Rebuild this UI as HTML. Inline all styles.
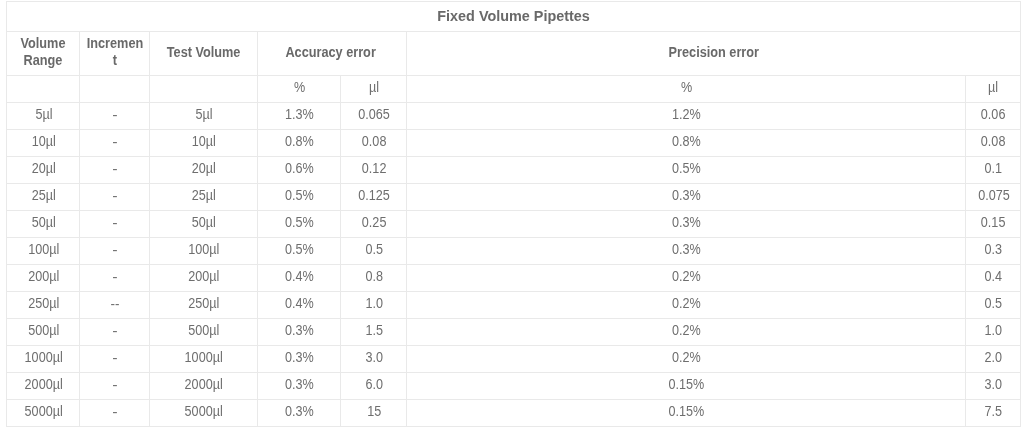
<!DOCTYPE html>
<html lang="en">
<head>
<meta charset="utf-8">
<title>Fixed Volume Pipettes</title>
<style>
html,body{margin:0;padding:0;background:#fff;}
body{width:1029px;height:433px;overflow:hidden;font-family:"Liberation Sans",Arial,sans-serif;font-size:14px;color:#666;}
table{position:absolute;left:6px;top:1px;border-collapse:collapse;table-layout:fixed;width:1014px;}
td,th{border:1px solid #e9e9e9;padding:3px 0 0 0;text-align:center;vertical-align:top;line-height:17px;font-size:14px;box-sizing:border-box;white-space:nowrap;}
th{font-weight:bold;color:#696969;}
td{color:#6e6e6e;font-weight:normal;}
td span,th span{display:inline-block;transform:translateX(0.5px) scaleX(0.9);transform-origin:50% 50%;}
td span.hy{transform:translate(0.6px,1px) scaleX(1.15);color:#747474;}
td span.hy2{transform:translate(0.4px,1px) scaleX(0.96);}
tr.t th{height:30px;padding-top:6px;}
tr.t th span{transform:translateX(0.4px) scaleX(1.028);}
tr.h th{height:44px;padding-top:12px;}
tr.h th span{transform:scaleX(0.908);}
tr.h th span.acc{transform:translateX(-1.2px) scaleX(0.908);}
tr.h th.two{padding-top:3px;white-space:normal;}
tr.h th.two span{display:block;margin:0 -4px;}
tr.h th.inc span{margin:0 2.5px;word-break:break-all;}
tr.s td{height:27px;}
tr.d td{height:27px;}
</style>
</head>
<body>
<table>
<colgroup><col style="width:73px"><col style="width:70px"><col style="width:108px"><col style="width:83px"><col style="width:66px"><col style="width:559px"><col style="width:55px"></colgroup>
<tr class="t"><th colspan="7"><span>Fixed Volume Pipettes</span></th></tr>
<tr class="h"><th class="two"><span>Volume Range</span></th><th class="two inc"><span>Increment</span></th><th><span>Test Volume</span></th><th colspan="2"><span class="acc">Accuracy error</span></th><th colspan="2"><span>Precision error</span></th></tr>
<tr class="s"><td></td><td></td><td></td><td><span>%</span></td><td><span>µl</span></td><td><span>%</span></td><td><span>µl</span></td></tr>
<tr class="d"><td><span>5µl</span></td><td><span class="hy">-</span></td><td><span>5µl</span></td><td><span>1.3%</span></td><td><span>0.065</span></td><td><span>1.2%</span></td><td><span>0.06</span></td></tr>
<tr class="d"><td><span>10µl</span></td><td><span class="hy">-</span></td><td><span>10µl</span></td><td><span>0.8%</span></td><td><span>0.08</span></td><td><span>0.8%</span></td><td><span>0.08</span></td></tr>
<tr class="d"><td><span>20µl</span></td><td><span class="hy">-</span></td><td><span>20µl</span></td><td><span>0.6%</span></td><td><span>0.12</span></td><td><span>0.5%</span></td><td><span>0.1</span></td></tr>
<tr class="d"><td><span>25µl</span></td><td><span class="hy">-</span></td><td><span>25µl</span></td><td><span>0.5%</span></td><td><span>0.125</span></td><td><span>0.3%</span></td><td><span>0.075</span></td></tr>
<tr class="d"><td><span>50µl</span></td><td><span class="hy">-</span></td><td><span>50µl</span></td><td><span>0.5%</span></td><td><span>0.25</span></td><td><span>0.3%</span></td><td><span>0.15</span></td></tr>
<tr class="d"><td><span>100µl</span></td><td><span class="hy">-</span></td><td><span>100µl</span></td><td><span>0.5%</span></td><td><span>0.5</span></td><td><span>0.3%</span></td><td><span>0.3</span></td></tr>
<tr class="d"><td><span>200µl</span></td><td><span class="hy">-</span></td><td><span>200µl</span></td><td><span>0.4%</span></td><td><span>0.8</span></td><td><span>0.2%</span></td><td><span>0.4</span></td></tr>
<tr class="d"><td><span>250µl</span></td><td><span class="hy hy2">--</span></td><td><span>250µl</span></td><td><span>0.4%</span></td><td><span>1.0</span></td><td><span>0.2%</span></td><td><span>0.5</span></td></tr>
<tr class="d"><td><span>500µl</span></td><td><span class="hy">-</span></td><td><span>500µl</span></td><td><span>0.3%</span></td><td><span>1.5</span></td><td><span>0.2%</span></td><td><span>1.0</span></td></tr>
<tr class="d"><td><span>1000µl</span></td><td><span class="hy">-</span></td><td><span>1000µl</span></td><td><span>0.3%</span></td><td><span>3.0</span></td><td><span>0.2%</span></td><td><span>2.0</span></td></tr>
<tr class="d"><td><span>2000µl</span></td><td><span class="hy">-</span></td><td><span>2000µl</span></td><td><span>0.3%</span></td><td><span>6.0</span></td><td><span>0.15%</span></td><td><span>3.0</span></td></tr>
<tr class="d"><td><span>5000µl</span></td><td><span class="hy">-</span></td><td><span>5000µl</span></td><td><span>0.3%</span></td><td><span>15</span></td><td><span>0.15%</span></td><td><span>7.5</span></td></tr>
</table>
</body>
</html>
